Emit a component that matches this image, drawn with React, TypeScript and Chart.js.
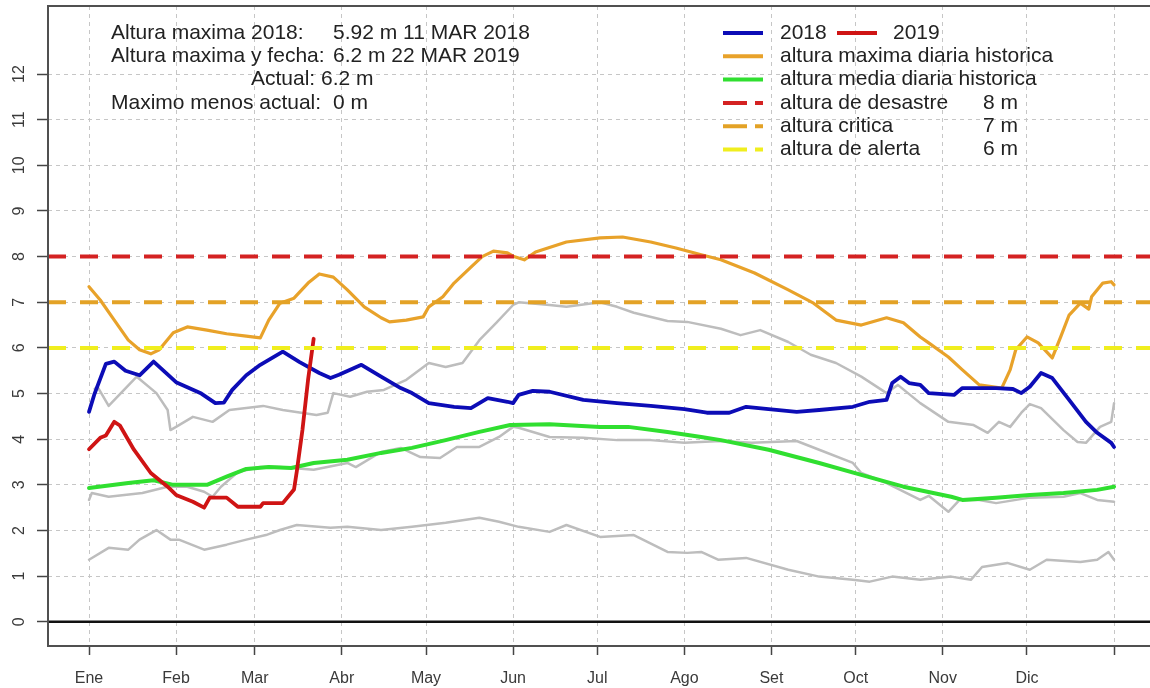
import React, { useEffect, useRef } from "react";
import { Chart, registerables } from "chart.js";

Chart.register(...registerables);

// ---- axis definitions ----
const monthTickDays = [1, 32, 60, 91, 121, 152, 182, 213, 244, 274, 305, 335, 366];
const monthLabels = ["Ene", "Feb", "Mar", "Abr", "May", "Jun", "Jul", "Ago", "Set", "Oct", "Nov", "Dic", ""];
const yTickValues = [0, 1, 2, 3, 4, 5, 6, 7, 8, 9, 10, 11, 12];
const xRange = [-13.6, 378.8];
const yRange = [-0.53, 13.49];

// ---- series (day of year, level in m) ----
const days2018 = [1, 3, 7, 10, 14, 19, 24, 32, 41, 46, 49, 52, 57, 62, 70, 76, 83, 87, 90, 98, 105, 112, 116, 122, 131, 137, 143, 150, 152, 154, 159, 165, 177, 189, 201, 213, 221, 229, 235, 243, 253, 261, 273, 279, 285, 287, 290, 293, 297, 300, 309, 312, 324, 330, 333, 336, 340, 344, 350, 356, 360, 365, 366];
const values2018 = [4.6, 5.0, 5.65, 5.7, 5.5, 5.4, 5.7, 5.25, 5.0, 4.79, 4.8, 5.08, 5.4, 5.63, 5.92, 5.69, 5.45, 5.34, 5.41, 5.63, 5.37, 5.12, 5.01, 4.79, 4.71, 4.68, 4.9, 4.82, 4.79, 4.97, 5.06, 5.04, 4.86, 4.79, 4.73, 4.66, 4.58, 4.58, 4.71, 4.66, 4.6, 4.64, 4.71, 4.82, 4.86, 5.23, 5.37, 5.23, 5.19, 5.01, 4.97, 5.12, 5.12, 5.1, 5.01, 5.15, 5.45, 5.34, 4.86, 4.38, 4.14, 3.92, 3.83];

const days2019 = [1, 5, 7, 10, 12, 17, 23, 29, 32, 38, 42, 44, 50, 54, 62, 63, 70, 74, 75, 77, 79, 81];
const values2019 = [3.78, 4.03, 4.08, 4.38, 4.3, 3.77, 3.26, 2.96, 2.78, 2.63, 2.5, 2.72, 2.72, 2.52, 2.52, 2.6, 2.6, 2.9, 3.3, 4.2, 5.3, 6.2];

const daysMaxHist = [1, 5, 10, 15, 19, 23, 26, 31, 36, 43, 50, 57, 62, 65, 69, 74, 79, 83, 88, 93, 99, 105, 108, 114, 120, 122, 127, 131, 137, 141, 145, 150, 152, 156, 160, 171, 183, 191, 201, 210, 219, 226, 238, 250, 259, 267, 276, 285, 291, 297, 300, 307, 312, 318, 326, 329, 331, 335, 339, 344, 347, 350, 354, 357, 358, 362, 365, 366];
const valuesMaxHist = [7.34, 7.05, 6.61, 6.17, 5.96, 5.87, 5.96, 6.33, 6.46, 6.39, 6.31, 6.26, 6.22, 6.61, 6.98, 7.09, 7.42, 7.62, 7.55, 7.27, 6.9, 6.66, 6.57, 6.61, 6.68, 6.9, 7.12, 7.42, 7.77, 8.0, 8.12, 8.08, 8.01, 7.93, 8.1, 8.32, 8.41, 8.43, 8.32, 8.19, 8.04, 7.93, 7.64, 7.27, 6.98, 6.61, 6.5, 6.66, 6.55, 6.24, 6.11, 5.8, 5.52, 5.19, 5.12, 5.52, 5.96, 6.24, 6.11, 5.78, 6.24, 6.72, 6.98, 6.85, 7.12, 7.42, 7.45, 7.38];

const daysMeanHist = [1, 15, 24, 31, 43, 50, 57, 65, 73, 81, 93, 105, 116, 128, 140, 151, 165, 183, 193, 207, 219, 226, 243, 261, 276, 291, 308, 312, 324, 336, 348, 360, 366];
const valuesMeanHist = [2.93, 3.04, 3.1, 3.0, 3.0, 3.18, 3.35, 3.39, 3.37, 3.48, 3.55, 3.7, 3.81, 3.98, 4.16, 4.31, 4.33, 4.27, 4.27, 4.16, 4.05, 3.98, 3.77, 3.48, 3.22, 2.96, 2.74, 2.67, 2.72, 2.78, 2.82, 2.89, 2.96];

const daysGrayHigh = [3, 4, 8, 18, 25, 29, 30, 32, 38, 45, 51, 63, 70, 82, 86, 88, 94, 100, 106, 114, 122, 128, 134, 140, 146, 152, 154, 165, 171, 183, 189, 195, 207, 214, 226, 233, 240, 250, 258, 267, 276, 285, 289, 297, 307, 316, 321, 325, 329, 333, 336, 340, 348, 353, 356, 361, 365, 366];
const valuesGrayHigh = [5.1, 5.15, 4.73, 5.37, 5.01, 4.64, 4.2, 4.27, 4.49, 4.38, 4.64, 4.73, 4.64, 4.53, 4.58, 5.01, 4.93, 5.04, 5.08, 5.3, 5.67, 5.58, 5.67, 6.17, 6.55, 6.94, 7.0, 6.94, 6.9, 7.0, 6.9, 6.77, 6.59, 6.57, 6.42, 6.28, 6.39, 6.13, 5.85, 5.67, 5.37, 5.01, 5.19, 4.79, 4.38, 4.31, 4.14, 4.38, 4.27, 4.58, 4.77, 4.68, 4.2, 3.94, 3.92, 4.27, 4.38, 4.79];

const daysGrayMid = [1, 2, 8, 20, 29, 36, 42, 45, 48, 54, 62, 69, 81, 93, 96, 105, 112, 119, 126, 132, 140, 147, 152, 154, 165, 177, 189, 201, 213, 226, 237, 253, 261, 273, 276, 285, 297, 300, 307, 311, 318, 324, 336, 348, 354, 360, 366];
const valuesGrayMid = [2.67, 2.82, 2.74, 2.82, 2.96, 2.96, 2.85, 2.74, 2.96, 3.28, 3.39, 3.39, 3.33, 3.48, 3.39, 3.72, 3.81, 3.61, 3.59, 3.83, 3.83, 4.05, 4.27, 4.25, 4.05, 4.03, 3.98, 3.98, 3.92, 3.96, 3.92, 3.96, 3.77, 3.48, 3.26, 3.04, 2.67, 2.76, 2.41, 2.67, 2.67, 2.6, 2.72, 2.74, 2.82, 2.67, 2.63];

const daysGrayLow = [1, 8, 15, 19, 25, 30, 33, 42, 50, 57, 64, 69, 75, 87, 93, 105, 116, 128, 140, 147, 154, 165, 171, 183, 195, 207, 214, 219, 225, 235, 250, 261, 273, 279, 287, 297, 308, 315, 319, 328, 336, 342, 354, 360, 364, 366];
const valuesGrayLow = [1.36, 1.62, 1.58, 1.8, 2.01, 1.8, 1.8, 1.58, 1.69, 1.8, 1.9, 2.01, 2.12, 2.06, 2.08, 2.01, 2.08, 2.17, 2.28, 2.19, 2.08, 1.97, 2.12, 1.86, 1.9, 1.53, 1.51, 1.53, 1.36, 1.4, 1.14, 0.99, 0.92, 0.88, 0.99, 0.92, 0.99, 0.92, 1.2, 1.29, 1.14, 1.36, 1.31, 1.36, 1.53, 1.36];

// thresholds: desastre, critica, alerta
const thresholdValues = [8, 7, 6];
const thresholdNames = ["altura de desastre", "altura critica", "altura de alerta"];
const thresholdColors = ["#d42222", "#e3a226", "#f0ee1e"];
const zeroLevel = 0;

// ---- annotation text ----
const infoLabels = ["Altura maxima 2018:", "Altura maxima y fecha:", "", "Maximo menos actual:"];
const infoValues = ["5.92 m 11 MAR 2018", "6.2 m 22 MAR 2019", "Actual: 6.2 m", "0 m"];

const seriesNames = ["2018", "2019", "altura maxima diaria historica", "altura media diaria historica"];

const COLORS = {
  blue: "#0c0cb6",
  red: "#cf1414",
  orange: "#e8a22a",
  green: "#30df30",
  gray: "#bdbdbd",
};

const FONT = '"Liberation Sans", Arial, Helvetica, sans-serif';

const pts = (d: number[], v: number[]) => d.map((x, i) => ({ x, y: v[i] }));

export default function App() {
  const canvasRef = useRef<HTMLCanvasElement | null>(null);

  useEffect(() => {
    const canvas = canvasRef.current;
    if (!canvas) return;

    const overlay = {
      id: "overlay",
      afterDraw(chart: any) {
        const ctx = chart.ctx as CanvasRenderingContext2D;
        const ca = chart.chartArea;
        const ys = chart.scales.y;
        ctx.save();
        // plot box
        ctx.setLineDash([]);
        ctx.strokeStyle = "#505050";
        ctx.lineWidth = 2;
        ctx.beginPath();
        ctx.moveTo(ca.right + 10, ca.top);
        ctx.lineTo(ca.left, ca.top);
        ctx.lineTo(ca.left, ca.bottom);
        ctx.lineTo(ca.right + 10, ca.bottom);
        ctx.stroke();

        // rotated y tick labels
        ctx.fillStyle = "#3a3a3a";
        ctx.font = `16px ${FONT}`;
        ctx.textAlign = "center";
        ctx.textBaseline = "middle";
        yTickValues.forEach((v) => {
          const py = ys.getPixelForValue(v);
          ctx.save();
          ctx.translate(20, py);
          ctx.rotate(-Math.PI / 2);
          ctx.fillText(String(v), 0, 0);
          ctx.restore();
        });

        // info text
        ctx.fillStyle = "#222";
        ctx.font = `21px ${FONT}`;
        ctx.textAlign = "left";
        const rowY = (i: number) => 33 + i * 23.3;
        infoLabels.forEach((lab, i) => {
          if (lab) {
            ctx.fillText(lab, 111, rowY(i));
            ctx.fillText(infoValues[i], 333, rowY(i));
          } else {
            ctx.fillText(infoValues[i], 251, rowY(i));
          }
        });

        // legend
        const lx0 = 723, lx1 = 763, tx = 780;
        const seg = (x0: number, x1: number, y: number, color: string, dash: number[]) => {
          ctx.save();
          ctx.strokeStyle = color;
          ctx.lineWidth = 4;
          ctx.lineCap = "butt";
          ctx.setLineDash(dash);
          ctx.beginPath();
          ctx.moveTo(x0, y);
          ctx.lineTo(x1, y);
          ctx.stroke();
          ctx.restore();
        };
        seg(lx0, lx1, rowY(0), COLORS.blue, []);
        ctx.fillText(seriesNames[0], tx, rowY(0));
        seg(837, 877, rowY(0), COLORS.red, []);
        ctx.fillText(seriesNames[1], 893, rowY(0));
        seg(lx0, lx1, rowY(1), COLORS.orange, []);
        ctx.fillText(seriesNames[2], tx, rowY(1));
        seg(lx0, lx1, rowY(2), COLORS.green, []);
        ctx.fillText(seriesNames[3], tx, rowY(2));
        thresholdValues.forEach((v, i) => {
          const y = rowY(3 + i);
          seg(lx0, lx1, y, thresholdColors[i], [24, 8]);
          ctx.fillText(thresholdNames[i], tx, y);
          ctx.fillText(`${v} m`, 983, y);
        });
        ctx.restore();
      },
    };

    const lineDs = (data: any[], color: string, width: number, order: number, extra: any = {}) => ({
      data,
      borderColor: color,
      borderWidth: width,
      pointRadius: 0,
      tension: 0,
      fill: false,
      borderJoinStyle: "round",
      borderCapStyle: "round",
      order,
      ...extra,
    });

    const datasets: any[] = [
      lineDs(pts(daysGrayLow, valuesGrayLow), COLORS.gray, 2.5, 9),
      lineDs(pts(daysGrayMid, valuesGrayMid), COLORS.gray, 2.5, 9),
      lineDs(pts(daysGrayHigh, valuesGrayHigh), COLORS.gray, 2.5, 9),
      lineDs(pts(daysMaxHist, valuesMaxHist), COLORS.orange, 3.2, 7),
      lineDs(pts(daysMeanHist, valuesMeanHist), COLORS.green, 4, 6),
      lineDs(pts(days2018, values2018), COLORS.blue, 3.8, 5),
      lineDs(pts(days2019, values2019), COLORS.red, 3.8, 4),
      ...thresholdValues.map((v, i) =>
        lineDs(
          [
            { x: xRange[0], y: v },
            { x: xRange[1], y: v },
          ],
          thresholdColors[i],
          4,
          2,
          { borderDash: [18, 14], borderCapStyle: "butt" }
        )
      ),
      lineDs(
        [
          { x: xRange[0], y: zeroLevel },
          { x: xRange[1], y: zeroLevel },
        ],
        "#111111",
        2.5,
        1,
        { borderCapStyle: "butt" }
      ),
    ];

    const chart = new Chart(canvas, {
      type: "line",
      data: { datasets },
      plugins: [overlay],
      options: {
        animation: false,
        responsive: false,
        devicePixelRatio: 1,
        layout: { padding: { top: 6, right: 0, left: 0, bottom: 0 } },
        plugins: { legend: { display: false }, tooltip: { enabled: false } },
        events: [],
        scales: {
          x: {
            type: "linear",
            min: xRange[0],
            max: xRange[1],
            afterBuildTicks: (axis: any) => {
              axis.ticks = monthTickDays.map((v) => ({ value: v }));
            },
            afterFit: (axis: any) => {
              axis.height = 42;
            },
            ticks: {
              autoSkip: false,
              maxRotation: 0,
              minRotation: 0,
              padding: 14,
              color: "#3a3a3a",
              font: { family: FONT, size: 16 },
              callback: (_v: any, i: number) => monthLabels[i],
            },
            grid: {
              color: "#c6c6c6",
              lineWidth: 1,
              drawTicks: true,
              tickLength: 9,
              tickColor: "#454545",
              tickWidth: 1.5,
              tickBorderDash: [],
            },
            border: { display: false, dash: [4, 4] },
          },
          y: {
            type: "linear",
            min: yRange[0],
            max: yRange[1],
            afterBuildTicks: (axis: any) => {
              axis.ticks = yTickValues.map((v) => ({ value: v }));
            },
            afterFit: (axis: any) => {
              axis.width = 48;
            },
            ticks: { display: false },
            grid: {
              color: "#c6c6c6",
              lineWidth: 1,
              drawTicks: true,
              tickLength: 11,
              tickColor: "#454545",
              tickWidth: 1.5,
              tickBorderDash: [],
            },
            border: { display: false, dash: [4, 4] },
          },
        },
      } as any,
    });

    return () => chart.destroy();
  }, []);

  return (
    <div style={{ position: "absolute", left: 0, top: 0, width: 1150, height: 688, overflow: "hidden", background: "#fff" }}>
      <canvas ref={canvasRef} width={1150} height={688} style={{ display: "block" }} />
    </div>
  );
}
